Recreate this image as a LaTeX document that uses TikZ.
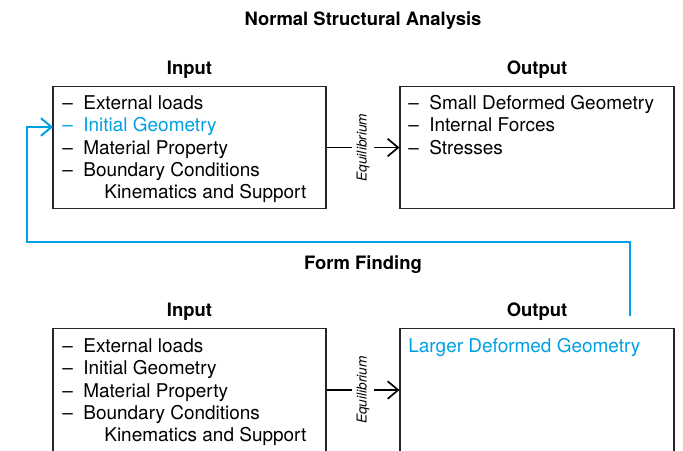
\documentclass[tikz,border=0pt]{standalone}
\usepackage{fontspec}
\setmainfont{TeX Gyre Heros}
\usepackage{xcolor}
\usepackage{tikz}
\usetikzlibrary{shapes}
\usetikzlibrary{arrows.meta}
\definecolor{fbblue}{RGB}{0,160,226}
\newcommand{\itm}[1]{\makebox[0.42cm][l]{--}#1}
\tikzset{
	box node/.style={rectangle,draw=black!85,line width=0.6pt,minimum width=5.46cm,
		minimum height=2.44cm,inner sep=0pt,anchor=north},
	head/.style={font=\fontsize{10.5}{12}\selectfont\bfseries},
	list/.style={align=left,anchor=north west,inner sep=0pt,font=\fontsize{10.8}{12.76}\selectfont},
	equi/.style={rotate=90,fill=white,inner sep=2.5pt,font=\fontsize{7.8}{9}\selectfont\itshape},
	feedback/.style={draw=fbblue,line width=1.1pt}
}

\begin{document}
\begin{tikzpicture}[>={Straight Barb[length=6pt,width=10pt]}]
      \useasboundingbox (0,0) rectangle (13.66,9);

      % normal analysis
      \node[head] (0) at (7.26,8.58) {Normal Structural Analysis};
      \node[head] (1a) at (3.79,7.6) {Input};
      \node[head] (2a) at (10.74,7.6) {Output};
      \node[box node] (1) at (3.79,7.28) {};
      \node[box node,minimum width=5.48cm] (2) at (10.74,7.28) {};
      \node[list] (1t) at (1.24,7.1) {\itm{External loads}\\
        \textcolor{fbblue}{\itm{Initial Geometry}}\\
        \itm{Material Property}\\
        \itm{Boundary Conditions}\\
        \hspace*{0.84cm}Kinematics and Support};
      \node[list] (2t) at (8.16,7.1) {\itm{Small Deformed Geometry}\\
        \itm{Internal Forces}\\
        \itm{Stresses}};

      % form finding
      \node[head] (5) at (7.26,3.7) {Form Finding};
      \node[head] (3a) at (3.79,2.76) {Input};
      \node[head] (4a) at (10.74,2.76) {Output};
      \node[box node,minimum height=2.46cm] (3) at (3.79,2.44) {};
      \node[box node,minimum height=2.46cm,minimum width=5.48cm] (4) at (10.74,2.44) {};
      \node[list] (3t) at (1.24,2.24) {\itm{External loads}\\
        \itm{Initial Geometry}\\
        \itm{Material Property}\\
        \itm{Boundary Conditions}\\
        \hspace*{0.84cm}Kinematics and Support};
      \node[list,text=fbblue] (4t) at (8.16,2.24) {Larger Deformed Geometry};

      \coordinate (fb) at (12.6,2.68);
      \coordinate (ig) at (1.06,6.46);

      \path[->,line width=0.95pt]
        (1) edge node[equi] {Equilibrium} (2)
        (3) edge node[equi] {Equilibrium} (4);
      \draw[feedback,->] (fb) |- (0.54,4.16) |- (ig);
\end{tikzpicture}
\end{document}
